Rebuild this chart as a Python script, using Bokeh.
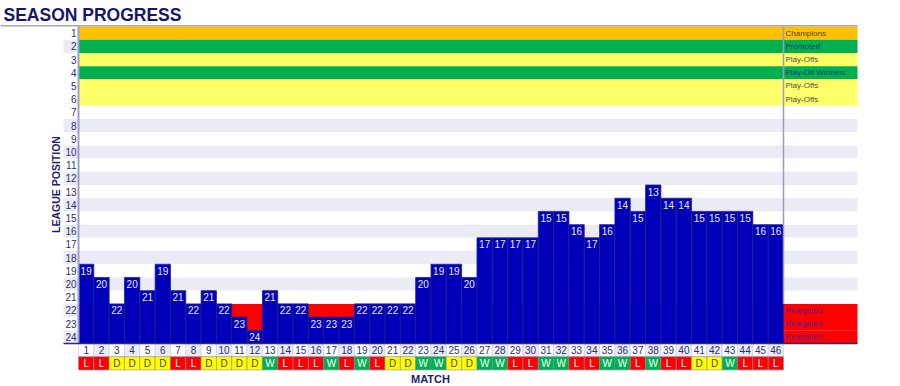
import math
from bokeh.plotting import figure
from bokeh.models import Range1d, ColumnDataSource
from bokeh.core.properties import value
from bokeh.embed import file_html
from bokeh.resources import INLINE

# ---------------- data ----------------
matches = list(range(1, 47))
positions = [19, 20, 22, 20, 21, 19, 21, 22, 21, 22, 23, 24, 21, 22, 22, 23, 23, 23,
             22, 22, 22, 22, 20, 19, 19, 20, 17, 17, 17, 17, 15, 15, 16, 17, 16, 14,
             15, 13, 14, 14, 15, 15, 15, 15, 16, 16]
results = ["L", "L", "D", "D", "D", "D", "L", "L", "D", "D", "D", "D", "W", "L", "L", "L",
           "W", "L", "W", "L", "D", "D", "W", "W", "D", "D", "W", "W", "L", "L", "W", "W",
           "L", "L", "W", "W", "L", "W", "L", "L", "D", "D", "W", "L", "L", "L"]
league_rows = list(range(1, 25))
tick_labels = [str(r) for r in league_rows]
zone_rows = [1, 2, 3, 4, 5, 6, 22, 23, 24]
zone_names = ["Champions", "Promoted", "Play-Offs", "Play-Off Winners", "Play-Offs",
              "Play-Offs", "Relegated", "Relegated", "Relegated"]
zone_kinds = ["champ", "promo", "po", "pow", "po", "po", "rel", "rel", "rel"]
title_text = "SEASON PROGRESS"
x_title = "MATCH"
y_title = "LEAGUE POSITION"

# ---------------- layout helpers (pixel -> data) ----------------
W, H = 900, 386
col_w = 705 / 46.0
row_h = (343 - 26) / 24.0


def dx(px):
    return 0.5 + (px - 78) / col_w


def dy(py):
    return 0.5 + (py - 26) / row_h


NAVY = "#1e1e6e"
LAV = "#ebebf5"
zone_fill = {"champ": "#ffc000", "promo": "#00b050", "po": "#ffff66", "pow": "#00b050", "rel": "#ff0000"}
zone_text = {"champ": "#5a4418", "promo": "#1f3a7a", "po": "#505050", "pow": "#1f3a7a", "rel": "#4a2090"}
res_fill = {"L": "#ff0000", "D": "#ffff00", "W": "#00b050"}
res_text = {"L": "#ffffff", "D": "#4a4a10", "W": "#ffffff"}

p = figure(width=W, height=H, output_backend="svg", toolbar_location=None,
           x_range=Range1d(dx(0), dx(W)), y_range=Range1d(dy(H), dy(0)),
           min_border=0, outline_line_color=None)
p.axis.visible = False
p.grid.visible = False
p.background_fill_color = "white"
p.border_fill_color = "white"

label_col_right = dx(857)

# row bands
band_fill = []
for r in league_rows:
    if r in zone_rows:
        band_fill.append(zone_fill[zone_kinds[zone_rows.index(r)]])
    else:
        band_fill.append(LAV if r % 2 == 0 else "#ffffff")
band_src = ColumnDataSource(dict(top=[r - 0.5 for r in league_rows],
                                 bottom=[r + 0.5 for r in league_rows],
                                 fill=band_fill))
p.quad(left=0.5, right=label_col_right, top="top", bottom="bottom",
       fill_color="fill", line_color=None, source=band_src)

# tick label backgrounds (even rows, except 4 and 6)
tb_rows = [r for r in league_rows if r % 2 == 0 and r not in (4, 6)]
p.quad(left=dx(63), right=0.5, top=[r - 0.5 for r in tb_rows],
       bottom=[r + 0.5 for r in tb_rows], fill_color=LAV, line_color=None)

# tick labels
p.text(x=dx(76), y=league_rows, text=tick_labels, text_align="right",
       text_baseline="middle", text_font=value("Liberation Sans"),
       text_font_size="10px", text_color="#2e2e6e")

# zone labels
zsrc = ColumnDataSource(dict(y=zone_rows, t=zone_names,
                             c=[zone_text[k] for k in zone_kinds]))
p.text(x=dx(785), y="y", text="t", text_color="c", text_align="left",
       text_baseline="middle", text_font=value("Liberation Sans"),
       text_font_size="8px", source=zsrc)

# bars
bsrc = ColumnDataSource(dict(x=matches, top=[v - 0.5 for v in positions],
                             pos=positions, lab=[str(v) for v in positions]))
p.vbar(x="x", width=1, top="top", bottom=24.5, fill_color="#0000bb",
       line_color="#23238a", line_width=0.8, source=bsrc)
p.text(x="x", y="pos", text="lab", text_align="center", text_baseline="middle",
       text_font=value("Liberation Sans"), text_font_size="10px",
       text_color="#e8e8fa", source=bsrc)

# match number row
msrc = ColumnDataSource(dict(x=matches, lab=[str(m) for m in matches],
                             fill=[LAV if m % 2 == 0 else "#ffffff" for m in matches]))
p.rect(x="x", y=25, width=1, height=1, fill_color="fill", line_color="#cfcfe0",
       line_width=0.7, source=msrc)
p.text(x="x", y=25, text="lab", text_align="center", text_baseline="middle",
       text_font=value("Liberation Sans"), text_font_size="10px",
       text_color="#2e2e6e", source=msrc)

# result row
rsrc = ColumnDataSource(dict(x=matches, r=results,
                             fill=[res_fill[r] for r in results],
                             tc=[res_text[r] for r in results]))
p.rect(x="x", y=26, width=1, height=1, fill_color="fill", line_color="#8a8aa8",
       line_width=0.6, source=rsrc)
p.text(x="x", y=26, text="r", text_align="center", text_baseline="middle",
       text_font=value("Liberation Sans"), text_font_size="10px",
       text_color="tc", source=rsrc)

# frame lines
p.segment(x0=dx(0), y0=dy(25.3), x1=label_col_right, y1=dy(25.3),
          line_color="#a8a8b4", line_width=1.5)
p.segment(x0=0.5, y0=0.5, x1=0.5, y1=24.5, line_color="#9e9ed0", line_width=2)
p.segment(x0=46.5, y0=0.5, x1=46.5, y1=21.5, line_color="#9a9ac4", line_width=1.5)
p.segment(x0=dx(63), y0=24.5, x1=label_col_right, y1=24.5, line_color="#2a2a7a",
          line_width=1.5)

# titles
p.text(x=dx(3), y=dy(14), text=[title_text], text_align="left", text_baseline="middle",
       text_font=value("Liberation Sans"), text_font_style="bold",
       text_font_size="17.5px", text_color="#16166a")
p.text(x=dx(430), y=dy(378), text=[x_title], text_align="center", text_baseline="middle",
       text_font=value("Liberation Sans"), text_font_style="bold",
       text_font_size="11px", text_color=NAVY)
p.text(x=dx(55), y=dy(184), text=[y_title], angle=math.pi / 2, text_align="center",
       text_baseline="middle", text_font=value("Liberation Sans"),
       text_font_style="bold", text_font_size="10.5px", text_color=NAVY)

open("out.html", "w").write(file_html(p, INLINE))
